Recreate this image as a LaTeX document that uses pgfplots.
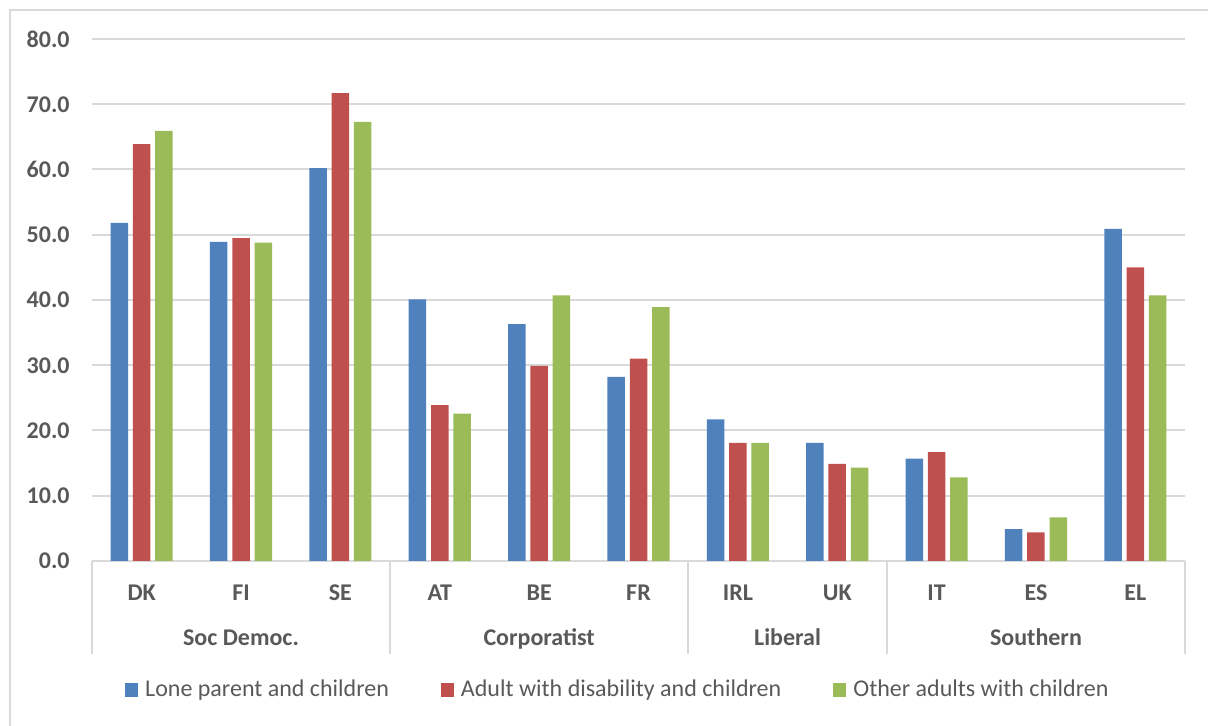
\documentclass[border=0pt]{standalone}
\usepackage{pgfplots}
\pgfplotsset{compat=1.18}
\usepackage{fontspec}
\setmainfont{Carlito}
\definecolor{sblue}{HTML}{4F81BD}
\definecolor{sred}{HTML}{C0504D}
\definecolor{sgreen}{HTML}{9BBB59}
\definecolor{gridc}{HTML}{D9D9D9}
\definecolor{txt}{HTML}{595959}
\newcommand\fs{\fontsize{12}{14.4}\selectfont}
\begin{document}
\begin{tikzpicture}
    \useasboundingbox (-46pt,-82.5pt) rectangle (558pt,280.5pt);
    \draw[gridc, line width=1pt] (-41pt,-82.5pt) -- (-41pt,275.5pt) -- (558pt,275.5pt);
    \begin{axis}[
        scale only axis,
        width            = 546.5pt,
        height           = 261pt,
        ybar             = 2.4pt,
        bar width        = 8.75pt,
        xmin = -0.5, xmax = 10.5,
        ymin = 0, ymax = 80,
        ytick            = {0,10,...,80},
        xtick            = {0,...,10},
        xticklabels      = {DK,FI,SE,AT,BE,FR,IRL,UK,IT,ES,EL},
        xticklabel style = {font=\fs\bfseries, text=txt, anchor=center, yshift=-16pt},
        yticklabel style = {font=\fs\bfseries, text=txt, anchor=east, inner xsep=0pt, xshift=-11pt},
        /pgf/number format/.cd, fixed, fixed zerofill, precision=1, assume math mode=true, /pgfplots/.cd,
        axis line style  = {draw=none},
        major tick length = 0pt,
        ymajorgrids,
        major grid style = {gridc, line width=1pt},
        clip             = false,
        legend style     = {at={(0.030,-0.247)}, anchor=west, draw=none, fill=none,
                            inner sep=0pt, font=\fs, text=txt,
                            /tikz/every odd column/.append style={column sep=1.5pt},
                            /tikz/every even column/.append style={column sep=24pt}},
        legend columns   = 3,
        legend image code/.code = {\fill (0pt,-3.3pt) rectangle (6.5pt,3.3pt);}]

        \addplot[fill=sblue, draw=none] coordinates {
            (0,51.8) (1,48.9) (2,60.2) (3,40.1) (4,36.3) (5,28.2)
            (6,21.7) (7,18.1) (8,15.7) (9,4.9) (10,50.9)};
        \addplot[fill=sred, draw=none] coordinates {
            (0,63.9) (1,49.5) (2,71.7) (3,23.9) (4,29.9) (5,31.0)
            (6,18.1) (7,14.9) (8,16.7) (9,4.4) (10,45.0)};
        \addplot[fill=sgreen, draw=none] coordinates {
            (0,65.9) (1,48.8) (2,67.3) (3,22.6) (4,40.7) (5,38.9)
            (6,18.1) (7,14.3) (8,12.8) (9,6.7) (10,40.7)};
        \legend{Lone parent and children, Adult with disability and children, Other adults with children}

        % group separators below the category axis
        \draw[gridc, line width=1pt] (axis cs:-0.5,0) -- ([yshift=-46.5pt]axis cs:-0.5,0);
        \draw[gridc, line width=1pt] (axis cs:2.5,0)  -- ([yshift=-46.5pt]axis cs:2.5,0);
        \draw[gridc, line width=1pt] (axis cs:5.5,0)  -- ([yshift=-46.5pt]axis cs:5.5,0);
        \draw[gridc, line width=1pt] (axis cs:7.5,0)  -- ([yshift=-46.5pt]axis cs:7.5,0);
        \draw[gridc, line width=1pt] (axis cs:10.5,0) -- ([yshift=-46.5pt]axis cs:10.5,0);
        \node[font=\fs\bfseries, text=txt, anchor=base] at ([yshift=-42.5pt]axis cs:1,0)   {Soc Democ.};
        \node[font=\fs\bfseries, text=txt, anchor=base] at ([yshift=-42.5pt]axis cs:4,0)   {Corporatist};
        \node[font=\fs\bfseries, text=txt, anchor=base] at ([yshift=-42.5pt]axis cs:6.5,0) {Liberal};
        \node[font=\fs\bfseries, text=txt, anchor=base] at ([yshift=-42.5pt]axis cs:9,0)   {Southern};
    \end{axis}
\end{tikzpicture}
\end{document}
